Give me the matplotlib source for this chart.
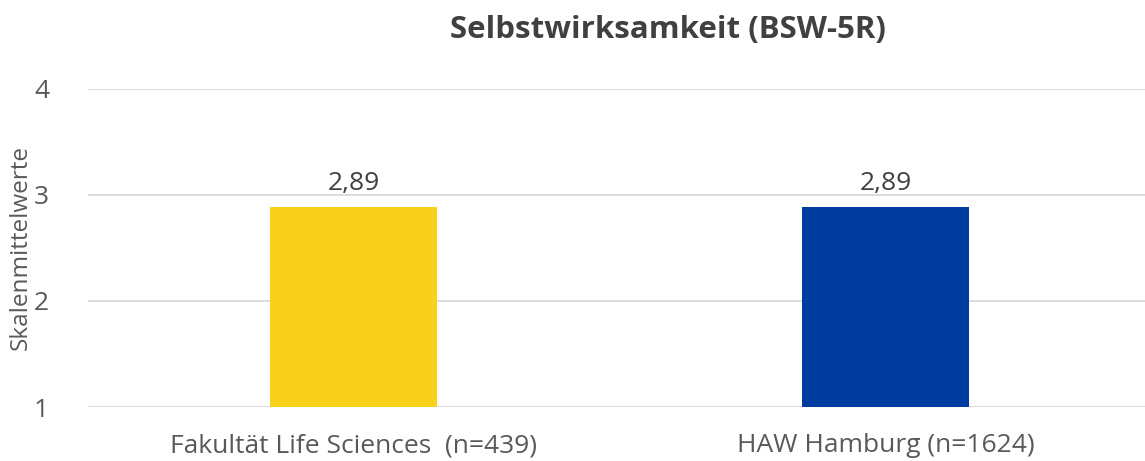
import matplotlib.pyplot as plt

# Daten
kategorien = ['Fakultät Life Sciences  (n=439)', 'HAW Hamburg (n=1624)']
werte = [2.89, 2.89]
wert_labels = ['2,89', '2,89']
farben = ['#F9D11B', '#003CA0']
y_ticks = [1, 2, 3, 4]

plt.rcParams['font.family'] = ['Open Sans', 'DejaVu Sans']

fig = plt.figure(figsize=(11.45, 4.61), dpi=100)
ax = fig.add_axes([88 / 1145, 1 - 407 / 461, 1057 / 1145, 318 / 461])

x = range(len(kategorien))
bars = ax.bar(x, [w - 1 for w in werte], bottom=1, width=0.314, color=farben, zorder=3)

for b, lab in zip(bars, wert_labels):
    ax.text(b.get_x() + b.get_width() / 2, b.get_y() + b.get_height() + 0.1, lab,
            ha='center', va='bottom', fontsize=19, color='#404040')

ax.set_xlim(-0.5, 1.488)
ax.set_ylim(1, 4)
ax.set_yticks(y_ticks)
ax.set_yticklabels([str(t) for t in y_ticks])
ax.set_xticks(list(x))
ax.set_xticklabels(kategorien)
ax.tick_params(axis='both', length=0, labelsize=19, colors='#595959')
ax.tick_params(axis='y', pad=28)
ax.tick_params(axis='x', pad=19)
ax.grid(axis='y', color='#D9D9D9', linewidth=1.3, zorder=0)
for s in ax.spines.values():
    s.set_visible(False)

ax.set_ylabel('Skalenmittelwerte', fontsize=17.5, color='#595959', labelpad=1)
fig.text(668 / 1145, 1 - 30 / 461, 'Selbstwirksamkeit (BSW-5R)', ha='center', va='center',
         fontsize=22.5, fontweight='bold', color='#404040')

fig.savefig('out.png', dpi=100)
